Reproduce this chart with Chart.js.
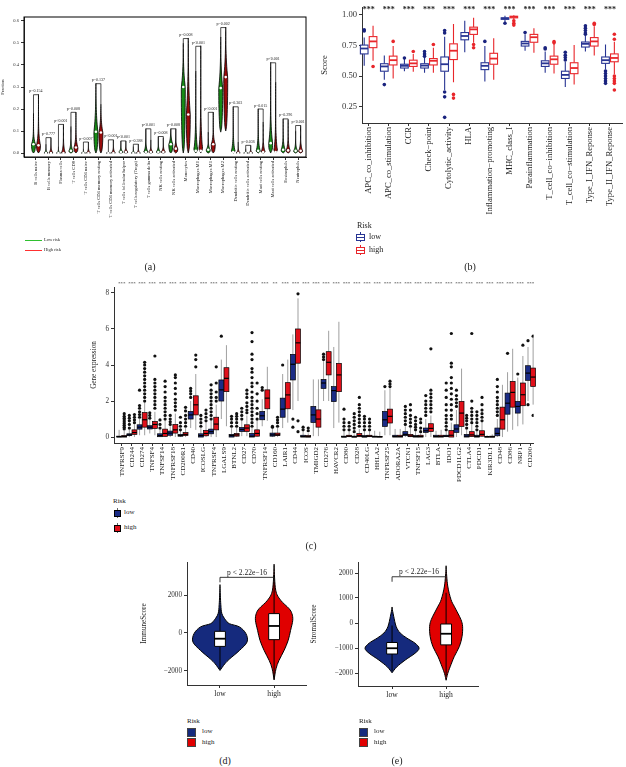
<!DOCTYPE html>
<html>
<head>
<meta charset="utf-8">
<title>Immune landscape by risk group</title>
<script src="https://cdn.jsdelivr.net/npm/chart.js@4.4.1/dist/chart.umd.min.js"></script>
<style>
  body { margin: 0; background: #fff; }
  #page { position: relative; width: 626px; height: 767px; overflow: hidden; font-family: "Liberation Serif", "DejaVu Serif", serif; color: #222; }
  #page canvas, #page .t, #page .k { position: absolute; }
  .t { white-space: nowrap; line-height: 1; color: #222; }
  .tag { font-size: 10px; transform: translateX(-50%); }
</style>
</head>
<body>
<div id="page">
  <canvas id="chartA" width="310" height="240" style="left:0;top:0"></canvas>
  <canvas id="chartB" width="306" height="222" style="left:320px;top:0"></canvas>
  <canvas id="chartC" width="450" height="215" style="left:90px;top:280px"></canvas>
  <canvas id="chartD" width="175" height="150" style="left:140px;top:555px"></canvas>
  <canvas id="chartE" width="175" height="150" style="left:310px;top:555px"></canvas>

  <!-- legend (a) -->
  <div class="k" style="left:25px;top:240px;width:17px;height:1px;background:#2fc02f"></div>
  <div class="t" style="left:44px;top:238px;font-size:4.5px">Low risk</div>
  <div class="k" style="left:25px;top:250px;width:17px;height:1px;background:#ff3030"></div>
  <div class="t" style="left:44px;top:248px;font-size:4.5px">High risk</div>
  <div class="t tag" style="left:150px;top:262px">(a)</div>

  <!-- legend (b) -->
  <div class="t" style="left:357px;top:222px;font-size:8px">Risk</div>
  <div class="k" style="left:360px;top:232px;width:1px;height:10px;background:#283593"></div>
  <div class="k" style="left:356px;top:234px;width:7px;height:5px;border:1px solid #283593;background:#fff"></div>
  <div class="k" style="left:356px;top:236.5px;width:9px;height:1.3px;background:#283593"></div>
  <div class="t" style="left:369px;top:233px;font-size:8px">low</div>
  <div class="k" style="left:360px;top:245px;width:1px;height:10px;background:#e8262b"></div>
  <div class="k" style="left:356px;top:247px;width:7px;height:5px;border:1px solid #e8262b;background:#fff"></div>
  <div class="k" style="left:356px;top:249.5px;width:9px;height:1.3px;background:#e8262b"></div>
  <div class="t" style="left:369px;top:246px;font-size:8px">high</div>
  <div class="t tag" style="left:470px;top:262px">(b)</div>

  <!-- legend (c) -->
  <div class="t" style="left:113px;top:498px;font-size:7px">Risk</div>
  <div class="k" style="left:117px;top:508px;width:1px;height:10px;background:#666"></div>
  <div class="k" style="left:114px;top:510px;width:5px;height:5px;border:1px solid #000;background:#1b2c86"></div>
  <div class="t" style="left:124px;top:509px;font-size:7px">low</div>
  <div class="k" style="left:117px;top:523px;width:1px;height:10px;background:#666"></div>
  <div class="k" style="left:114px;top:525px;width:5px;height:5px;border:1px solid #000;background:#e0101a"></div>
  <div class="t" style="left:124px;top:524px;font-size:7px">high</div>
  <div class="t tag" style="left:311px;top:541px">(c)</div>

  <!-- legend (d) -->
  <div class="t" style="left:187px;top:718px;font-size:7px">Risk</div>
  <div class="k" style="left:187px;top:728px;width:7px;height:7px;border:1px solid #444;background:#152a7d"></div>
  <div class="t" style="left:202px;top:728px;font-size:7px">low</div>
  <div class="k" style="left:187px;top:738px;width:7px;height:7px;border:1px solid #444;background:#e00000"></div>
  <div class="t" style="left:202px;top:739px;font-size:7px">high</div>
  <div class="t tag" style="left:225px;top:756px">(d)</div>

  <!-- legend (e) -->
  <div class="t" style="left:359px;top:718px;font-size:7px">Risk</div>
  <div class="k" style="left:359px;top:728px;width:7px;height:7px;border:1px solid #444;background:#152a7d"></div>
  <div class="t" style="left:374px;top:728px;font-size:7px">low</div>
  <div class="k" style="left:359px;top:738px;width:7px;height:7px;border:1px solid #444;background:#e00000"></div>
  <div class="t" style="left:374px;top:739px;font-size:7px">high</div>
  <div class="t tag" style="left:397px;top:756px">(e)</div>
</div>

<script>
// ---------- (a) immune cell fractions ----------
const aCells = ['B cells naive', 'B cells memory', 'Plasma cells', 'T cells CD8', 'T cells CD4 naive',
  'T cells CD4 memory resting', 'T cells CD4 memory activated', 'T cells follicular helper',
  'T cells regulatory (Tregs)', 'T cells gamma delta', 'NK cells resting', 'NK cells activated',
  'Monocytes', 'Macrophages M0', 'Macrophages M1', 'Macrophages M2', 'Dendritic cells resting',
  'Dendritic cells activated', 'Mast cells resting', 'Mast cells activated', 'Eosinophils', 'Neutrophils'];
const aLowMin  = [0, 0, 0, 0, 0, 0, 0, 0, 0, 0, 0, 0, 0, 0, 0, 0.095, 0, 0, 0, 0, 0, 0];
const aHighMin = [0, 0, 0, 0, 0, 0, 0, 0, 0, 0, 0, 0, 0, 0, 0, 0.10, 0, 0, 0, 0, 0, 0];
const aLowMax  = [0.18, 0.04, 0.03, 0.12, 0.02, 0.315, 0.01, 0.055, 0.03, 0.11, 0.075, 0.11, 0.495, 0.37, 0.095, 0.525, 0.21, 0.02, 0.2, 0.41, 0.155, 0.1];
const aHighMax = [0.265, 0.07, 0.13, 0.185, 0.05, 0.22, 0.06, 0.055, 0.04, 0.06, 0.07, 0.11, 0.52, 0.485, 0.185, 0.57, 0.05, 0.035, 0.14, 0.32, 0.15, 0.125];
const aLowMed  = [0.04, 0, 0, 0.01, 0, 0.097, 0, 0.005, 0, 0.005, 0.005, 0.04, 0.30, 0.01, 0.015, 0.295, 0.005, 0, 0.01, 0.045, 0.015, 0.01];
const aHighMed = [0.035, 0, 0, 0.025, 0, 0.093, 0, 0.005, 0, 0.005, 0.005, 0.02, 0.175, 0.01, 0.04, 0.345, 0, 0, 0.005, 0.005, 0.012, 0.01];
const aPvals = ['p=0.154', 'p=0.777', 'p<0.001', 'p=0.008', 'p=0.007', 'p=0.137', 'p<0.001', 'p<0.001',
  'p=0.388', 'p<0.001', 'p=0.008', 'p=0.008', 'p=0.008', 'p<0.001', 'p<0.001', 'p=0.002', 'p=0.303',
  'p=0.036', 'p=0.015', 'p<0.001', 'p=0.296', 'p<0.001'];
const aTicks = [0, 0.1, 0.2, 0.3, 0.4, 0.5, 0.6];

// ---------- (b) immune function scores: [low whisker, q1, median, q3, high whisker] ----------
const bCats = ['APC_co_inhibition', 'APC_co_stimulation', 'CCR', 'Check\u2212point', 'Cytolytic_activity', 'HLA',
  'Inflammation\u2212promoting', 'MHC_class_I', 'Parainflammation', 'T_cell_co\u2212inhibition',
  'T_cell_co\u2212stimulation', 'Type_I_IFN_Reponse', 'Type_II_IFN_Reponse'];
const bLowStats = [
  [0.583, 0.68, 0.724, 0.752, 0.813], [0.47, 0.539, 0.578, 0.60, 0.667], [0.539, 0.565, 0.583, 0.596, 0.642],
  [0.527, 0.565, 0.585, 0.60, 0.65], [0.386, 0.539, 0.596, 0.655, 0.82], [0.693, 0.795, 0.826, 0.854, 0.95],
  [0.455, 0.552, 0.583, 0.608, 0.744], [0.94, 0.962, 0.969, 0.974, 0.992], [0.705, 0.744, 0.765, 0.782, 0.84],
  [0.527, 0.578, 0.603, 0.624, 0.70], [0.41, 0.48, 0.509, 0.539, 0.616], [0.70, 0.736, 0.762, 0.777, 0.834],
  [0.552, 0.603, 0.629, 0.655, 0.757]];
const bHighStats = [
  [0.624, 0.731, 0.782, 0.821, 0.91], [0.48, 0.59, 0.629, 0.662, 0.744], [0.534, 0.578, 0.603, 0.629, 0.68],
  [0.527, 0.59, 0.624, 0.642, 0.73], [0.45, 0.634, 0.706, 0.762, 0.923], [0.77, 0.839, 0.88, 0.898, 0.974],
  [0.47, 0.596, 0.642, 0.685, 0.808], [0.962, 0.974, 0.982, 0.987, 0.995], [0.69, 0.775, 0.816, 0.839, 0.89],
  [0.52, 0.596, 0.636, 0.662, 0.762], [0.43, 0.519, 0.565, 0.608, 0.752], [0.667, 0.744, 0.782, 0.813, 0.905],
  [0.514, 0.616, 0.647, 0.68, 0.78]];
const bLowOut = [[0.867, 0.877], [0.43], [0.647], [0.66, 0.68, 0.70], [0.85, 0.87, 0.37, 0.33, 0.163], [],
  [0.782], [0.93], [0.854], [0.72, 0.73], [0.63, 0.65, 0.67, 0.693], [0.84, 0.85, 0.87, 0.89, 0.91],
  [0.54, 0.52, 0.50, 0.48, 0.46, 0.44]];
const bHighOut = [[0.578], [0.782], [0.70], [0.757], [0.35, 0.32], [0.757, 0.73], [], [0.95, 0.93, 0.915], [],
  [0.78, 0.77], [], [0.92, 0.93], [0.84, 0.80, 0.50, 0.48, 0.46, 0.44, 0.386]];
const bSig = bCats.map(() => '***');
const bTicks = [0.25, 0.5, 0.75, 1.0];

// ---------- (c) immune checkpoint genes: [low whisker, q1, median, q3, high whisker] ----------
const cGenes = ['TNFRSF9', 'CD244', 'CD274', 'TNFSF4', 'TNFSF14', 'TNFRSF18', 'CD200R1', 'CD40', 'ICOSLG',
  'TNFRSF4', 'LGALS9', 'BTNL2', 'CD27', 'CD70', 'TNFRSF14', 'CD160', 'LAIR1', 'CD44', 'ICOS', 'TMIGD2',
  'CD276', 'HAVCR2', 'CD80', 'CD28', 'CD40LG', 'HHLA2', 'TNFRSF25', 'ADORA2A', 'VTCN1', 'TNFSF15', 'LAG3',
  'BTLA', 'IDO1', 'PDCD1LG2', 'CTLA4', 'PDCD1', 'KIR3DL1', 'CD48', 'CD86', 'NRP1', 'CD200'];
const cLowStats = [
  [0, 0, 0.02, 0.05, 0.4], [0, 0.08, 0.12, 0.18, 0.4], [0.1, 0.44, 0.55, 0.68, 1.0], [0.2, 0.45, 0.55, 0.63, 0.95],
  [0, 0.02, 0.08, 0.18, 0.4], [0, 0.1, 0.22, 0.33, 0.6], [0, 0.05, 0.08, 0.15, 0.35], [0.5, 1.0, 1.23, 1.42, 2.0],
  [0, 0, 0.08, 0.18, 0.5], [0, 0.18, 0.3, 0.44, 0.9], [1.0, 2.0, 2.62, 3.17, 4.3], [0, 0, 0.08, 0.15, 0.5],
  [0.05, 0.31, 0.42, 0.53, 0.9], [0, 0, 0.05, 0.2, 0.5], [0.6, 0.96, 1.18, 1.42, 2.1], [0, 0.05, 0.12, 0.22, 0.5],
  [0.5, 1.1, 1.55, 2.16, 3.5], [1.5, 3.17, 4.04, 4.59, 5.7], [0, 0, 0.03, 0.1, 0.3], [0.05, 0.81, 1.23, 1.7, 3.2],
  [2.0, 2.7, 3.0, 3.2, 4.2], [0.5, 1.97, 2.58, 2.8, 5.0], [0, 0, 0.01, 0.05, 0.3], [0, 0, 0.01, 0.05, 0.15],
  [0, 0, 0.02, 0.08, 0.3], [0, 0, 0.02, 0.05, 0.35], [0.1, 0.59, 0.96, 1.42, 2.6], [0, 0, 0.03, 0.1, 0.45],
  [0, 0.08, 0.15, 0.3, 0.6], [0, 0, 0.03, 0.08, 0.3], [0, 0.26, 0.35, 0.5, 1.0], [0, 0, 0.03, 0.1, 0.35],
  [0, 0.02, 0.05, 0.1, 0.3], [0, 0.26, 0.45, 0.68, 1.5], [0, 0, 0.05, 0.15, 0.4], [0, 0, 0.03, 0.1, 0.3],
  [0, 0, 0.01, 0.03, 0.1], [0, 0.07, 0.2, 0.5, 1.0], [0.3, 1.27, 1.88, 2.44, 3.6], [0.6, 1.33, 1.7, 1.98, 3.3],
  [2.0, 3.15, 3.55, 3.96, 5.0]];
const cHighStats = [
  [0, 0, 0.03, 0.08, 0.35], [0, 0.15, 0.25, 0.4, 0.7], [0.1, 0.55, 0.96, 1.36, 1.9], [0.1, 0.48, 0.7, 0.87, 1.4],
  [0, 0.04, 0.2, 0.44, 0.9], [0, 0.22, 0.4, 0.7, 1.3], [0, 0.08, 0.15, 0.25, 0.5], [0.4, 1.23, 1.79, 2.29, 3.5],
  [0, 0.07, 0.2, 0.37, 0.8], [0, 0.4, 0.72, 1.1, 1.8], [0.6, 2.52, 3.26, 3.85, 5.1], [0, 0.05, 0.12, 0.2, 0.5],
  [0.05, 0.31, 0.5, 0.68, 1.2], [0, 0.05, 0.2, 0.4, 0.9], [0.9, 1.57, 2.16, 2.62, 3.9], [0, 0.08, 0.12, 0.22, 0.5],
  [0.8, 1.57, 2.34, 3.02, 4.3], [2.0, 4.1, 5.23, 6.0, 7.7], [0, 0, 0.02, 0.08, 0.2], [0.05, 0.55, 1.0, 1.51, 3.2],
  [2.0, 3.45, 4.15, 4.74, 5.9], [0.8, 2.52, 3.45, 4.09, 6.4], [0, 0.02, 0.05, 0.1, 0.3], [0, 0.02, 0.08, 0.2, 0.45],
  [0, 0.02, 0.05, 0.1, 0.3], [0, 0, 0.01, 0.03, 0.3], [0.1, 0.78, 1.15, 1.55, 2.7], [0, 0, 0.03, 0.1, 0.45],
  [0, 0.02, 0.06, 0.15, 0.5], [0, 0, 0.03, 0.1, 0.2], [0, 0.31, 0.48, 0.74, 1.2], [0, 0, 0.03, 0.1, 0.4],
  [0, 0, 0.1, 0.37, 0.8], [0.1, 0.59, 1.33, 1.98, 3.8], [0, 0.03, 0.12, 0.3, 0.7], [0, 0.05, 0.15, 0.35, 0.8],
  [0, 0, 0.01, 0.05, 0.15], [0, 0.44, 0.96, 1.66, 2.9], [0.4, 1.66, 2.48, 3.09, 4.9], [0.7, 1.74, 2.35, 3.0, 4.5],
  [1.8, 2.81, 3.33, 3.83, 5.5]];
const cLowOut = [[], [0.5, 0.7, 0.9, 1.05, 1.2], [1.1, 1.25, 1.4, 1.6, 1.75, 2.6], [1.05, 1.2, 1.35],
  [0.5, 0.7, 0.95], [0.7, 0.85, 1.0, 1.2], [0.4, 0.6, 0.8, 1.1], [2.2, 2.4, 2.55, 2.7], [0.6, 0.8, 1.0, 1.2],
  [1.0, 1.2, 1.4, 1.6, 1.8, 2.0, 2.2, 2.4, 2.6, 2.9], [5.6], [0.6, 0.8, 1.0, 1.15], [1.0, 1.2, 1.4, 1.6],
  [0.6, 0.8, 1.0, 1.2, 1.4, 1.6, 1.8, 2.0, 2.2, 2.5, 2.8, 3.0, 3.3, 3.6, 3.8, 4.3, 4.6, 5.3, 5.8],
  [2.6, 2.75], [0.55, 0.6], [4.0], [1.0, 0.55], [0.4, 0.55], [], [4.3, 4.45, 4.6], [],
  [0.4, 0.6, 0.8, 1.0, 1.55], [0.3, 0.5, 0.7, 0.9, 1.1, 1.3], [0.4, 0.6, 0.8, 1.0, 1.15], [], [2.8], [],
  [0.7, 0.9, 1.1, 1.3, 1.5, 1.7], [0.4, 0.55, 0.7, 0.9, 1.1], [1.2, 1.4, 1.6, 1.8, 2.0, 2.3], [],
  [0.4, 0.6, 0.8, 1.0, 1.2, 1.5, 1.8, 2.2, 2.6, 3.0], [1.7, 1.9, 2.1, 2.3, 2.6], [0.5, 0.7, 0.9, 1.05, 1.2],
  [0.4, 0.6, 0.8, 1.0, 1.2, 1.4], [], [1.2, 1.4, 1.6, 1.8, 2.0, 2.2, 2.5, 2.8, 3.2], [4.65], [3.5], [5.35, 1.8]];
const cHighOut = [[0.45, 0.55, 0.65, 0.75, 0.85, 0.95, 1.05, 1.15, 1.3], [0.8, 0.95, 1.1, 1.25],
  [2.0, 2.2, 2.4, 2.6, 2.8, 3.0, 3.2, 3.4, 3.6, 3.8, 4.0, 4.15], [1.6, 1.8, 2.0, 2.2, 2.4, 2.6, 2.8, 3.0, 3.2, 4.5],
  [1.0, 1.2, 1.4, 1.6, 1.8, 2.0, 2.2, 2.5, 2.8, 3.1], [1.5, 1.7, 1.9, 2.1, 2.4, 2.7, 3.0, 3.3, 3.45],
  [0.6, 0.8, 1.0, 1.2, 1.45, 1.65], [3.9, 4.3, 4.55], [0.9, 1.1, 1.3, 1.5], [2.0, 2.2, 2.5, 3.0, 3.9], [],
  [0.6, 0.8, 1.0, 1.15, 1.3], [1.35, 1.5, 1.7, 1.9, 2.2, 2.4, 2.6], [1.0, 1.3, 1.6, 2.0, 2.4, 3.0], [],
  [0.6, 0.8, 0.95, 1.1], [], [0.9, 0.3, 7.95], [0.35, 0.5], [], [], [], [0.4, 0.6, 0.8],
  [0.6, 0.8, 1.0, 1.2, 1.4, 1.6, 1.8, 2.2], [0.4, 0.6, 0.8, 1.0], [], [2.8, 2.95, 3.1], [],
  [0.6, 0.8, 1.0, 1.2, 1.5, 1.8], [0.3, 0.5, 0.8, 1.0], [1.4, 1.6, 1.8, 2.0, 2.2, 2.4, 2.6, 4.9], [],
  [1.0, 1.2, 1.5, 1.8, 2.1, 2.4, 2.7, 3.0, 3.3, 3.9, 4.1, 5.75], [], [0.8, 1.0, 1.2, 1.4, 1.6, 2.0, 5.75],
  [0.9, 1.1, 1.3, 1.5, 1.8, 2.2], [], [], [], [5.1], [5.6, 1.2]];
const cSig = cGenes.map((g, i) => (i === 15 ? '**' : '***'));
const cTicks = [0, 2, 4, 6, 8];

// ---------- (d) ImmuneScore / (e) StromalScore violins ----------
const riskGroups = ['low', 'high'];
const dLowVals  = [-1970, -1620, -1360, -920, -475, -35, 320, 490, 700, 1020, 1500, 2430];
const dLowDens  = [0, 0.18, 0.36, 0.72, 1, 0.96, 0.72, 0.35, 0.2, 0.07, 0.03, 0];
const dHighVals = [-2470, -1885, -1445, -915, -390, 140, 670, 1020, 1290, 1730, 2255, 3470];
const dHighDens = [0, 0.07, 0.18, 0.37, 0.52, 0.61, 0.69, 0.66, 0.55, 0.24, 0.06, 0];
const dLowBox  = [-1900, -705, -300, 88, 1270];
const dHighBox = [-2400, -350, 370, 1020, 3050];
const dTicks = [-2000, 0, 2000];
const dBracket = 2930;
const eLowVals  = [-1990, -1750, -1480, -1210, -1010, -808, -605, -400, -135, 270, 600];
const eLowDens  = [0, 0.18, 0.49, 0.85, 1, 0.85, 0.55, 0.3, 0.15, 0.06, 0];
const eHighVals = [-2290, -2020, -1750, -1345, -940, -540, -135, 135, 400, 670, 940, 1480, 2200];
const eHighDens = [0, 0.06, 0.15, 0.3, 0.49, 0.59, 0.61, 0.55, 0.43, 0.3, 0.18, 0.06, 0];
const eLowBox  = [-1930, -1240, -1010, -780, -100];
const eHighBox = [-2120, -875, -430, -40, 1210];
const eTicks = [-2000, -1000, 0, 1000, 2000];
const eBracket = 1850;
const pText = 'p < 2.22e\u221216';

// ---------- helpers ----------
Chart.defaults.font.family = "'Liberation Serif', 'DejaVu Serif', serif";
Chart.defaults.color = '#222';
Chart.defaults.animation = false;

const minus = v => String(v).replace('-', '\u2212');

function catAxis(names, min, max, height, size, rot) {
  return {
    type: 'linear', min, max,
    afterFit: s => { s.height = height; },
    afterBuildTicks: s => { s.ticks = names.map((n, i) => ({ value: i })); },
    ticks: { autoSkip: false, minRotation: rot, maxRotation: rot, padding: 1, color: '#222',
             font: { size }, callback: v => names[v] },
    grid: { drawOnChartArea: false, tickLength: 3, color: '#333' },
    border: { display: true, color: '#333' }
  };
}

function valAxis(ticks, min, max, width, size, title, fmt) {
  return {
    type: 'linear', min, max,
    afterFit: s => { s.width = width; },
    afterBuildTicks: s => { s.ticks = ticks.map(v => ({ value: v })); },
    ticks: { padding: 2, color: '#333', font: { size }, callback: fmt },
    grid: { drawOnChartArea: false, tickLength: 3, color: '#333' },
    border: { display: true, color: '#333' },
    title: { display: true, text: title, font: { size }, padding: 0, color: '#222' }
  };
}

function smoothPath(ctx, p) {
  ctx.moveTo(p[0][0], p[0][1]);
  for (let i = 0; i < p.length - 1; i++) {
    const p0 = p[i - 1] || p[i], p1 = p[i], p2 = p[i + 1], p3 = p[i + 2] || p2;
    ctx.bezierCurveTo(p1[0] + (p2[0] - p0[0]) / 6, p1[1] + (p2[1] - p0[1]) / 6,
                      p2[0] - (p3[0] - p1[0]) / 6, p2[1] - (p3[1] - p1[1]) / 6, p2[0], p2[1]);
  }
}

function drawViolin(ctx, xs, ys, cx, vals, dens, hw, fill, lw) {
  const left = vals.map((v, k) => [xs.getPixelForValue(cx - dens[k] * hw), ys.getPixelForValue(v)]);
  const right = vals.map((v, k) => [xs.getPixelForValue(cx + dens[k] * hw), ys.getPixelForValue(v)]).reverse();
  ctx.beginPath();
  smoothPath(ctx, left.concat(right));
  ctx.closePath();
  ctx.fillStyle = fill;
  ctx.fill();
  ctx.lineWidth = lw;
  ctx.strokeStyle = '#000';
  ctx.lineJoin = 'round';
  ctx.stroke();
}

// violin outline for (a): widest at the median, long thin tail up to the max
function spikeProfile(lo, med, hi) {
  const vals = [], dens = [];
  const k = (med - lo) < 0.25 * (hi - lo) ? 5 : 2;
  for (let j = 0; j <= 24; j++) {
    const v = lo + (hi - lo) * j / 24;
    let w;
    if (v <= med) {
      const t = med > lo ? (med - v) / (med - lo) : 0;
      w = Math.sqrt(Math.max(0, 1 - t * t));
    } else {
      const t = (v - med) / (hi - med);
      w = (1 - t) * Math.exp(-k * t);
    }
    vals.push(v); dens.push(w);
  }
  return { vals, dens };
}

function drawBox(ctx, xs, ys, cx, hw, s, st) {
  const [lo, q1, med, q3, hi] = s;
  const xl = xs.getPixelForValue(cx - hw), xr = xs.getPixelForValue(cx + hw), xc = xs.getPixelForValue(cx);
  const y = v => ys.getPixelForValue(v);
  ctx.save();
  ctx.strokeStyle = st.whisker;
  ctx.lineWidth = st.lw;
  ctx.beginPath();
  ctx.moveTo(xc, y(q3)); ctx.lineTo(xc, y(hi));
  ctx.moveTo(xc, y(q1)); ctx.lineTo(xc, y(lo));
  ctx.stroke();
  ctx.fillStyle = st.fill;
  ctx.fillRect(xl, y(q3), xr - xl, y(q1) - y(q3));
  ctx.strokeStyle = st.stroke;
  ctx.strokeRect(xl, y(q3), xr - xl, y(q1) - y(q3));
  ctx.lineWidth = st.medLw;
  ctx.strokeStyle = st.med;
  ctx.beginPath(); ctx.moveTo(xl, y(med)); ctx.lineTo(xr, y(med)); ctx.stroke();
  ctx.restore();
}

const noUi = { legend: { display: false }, tooltip: { enabled: false } };

// ---------- chart (a) ----------
const violinA = {
  id: 'violinA',
  beforeDatasetsDraw(chart) {
    const { ctx, scales: { x, y } } = chart;
    ctx.save();
    aCells.forEach((c, i) => {
      const pl = spikeProfile(aLowMin[i], aLowMed[i], aLowMax[i]);
      drawViolin(ctx, x, y, i - 0.2, pl.vals, pl.dens, 0.16, '#168c16', 0.8);
      const ph = spikeProfile(aHighMin[i], aHighMed[i], aHighMax[i]);
      drawViolin(ctx, x, y, i + 0.2, ph.vals, ph.dens, 0.16, '#9a0b0b', 0.8);
    });
    ctx.restore();
  },
  afterDatasetsDraw(chart) {
    const { ctx, scales: { x, y }, chartArea: a } = chart;
    ctx.save();
    ctx.strokeStyle = '#000';
    ctx.lineWidth = 0.7;
    ctx.fillStyle = '#222';
    ctx.font = "4px 'Liberation Serif'";
    ctx.textAlign = 'center';
    ctx.textBaseline = 'bottom';
    aCells.forEach((c, i) => {
      const top = Math.max(aLowMax[i], aHighMax[i]);
      ctx.beginPath();
      ctx.moveTo(x.getPixelForValue(i - 0.2), y.getPixelForValue(aLowMax[i]));
      ctx.lineTo(x.getPixelForValue(i - 0.2), y.getPixelForValue(top));
      ctx.lineTo(x.getPixelForValue(i + 0.2), y.getPixelForValue(top));
      ctx.lineTo(x.getPixelForValue(i + 0.2), y.getPixelForValue(aHighMax[i]));
      ctx.stroke();
      ctx.fillText(aPvals[i], x.getPixelForValue(i), y.getPixelForValue(top) - 1.5);
    });
    ctx.lineWidth = 1;
    ctx.strokeRect(a.left, a.top, a.right - a.left, a.bottom - a.top);
    ctx.restore();
  }
};

new Chart(document.getElementById('chartA'), {
  type: 'scatter',
  data: {
    datasets: [
      { data: aLowMed.map((v, i) => ({ x: i - 0.2, y: v })), pointRadius: 1.3, pointBorderWidth: 0, pointBackgroundColor: '#fff' },
      { data: aHighMed.map((v, i) => ({ x: i + 0.2, y: v })), pointRadius: 1.3, pointBorderWidth: 0, pointBackgroundColor: '#fff' }
    ]
  },
  options: {
    responsive: false,
    layout: { padding: { top: 17, right: 4, left: 0, bottom: 0 } },
    plugins: noUi,
    scales: {
      x: catAxis(aCells, -0.96, 21.63, 83, 4.6, 90),
      y: valAxis(aTicks, -0.018, 0.618, 24, 4.6, 'Fraction', v => v.toFixed(1))
    }
  },
  plugins: [violinA]
});

// ---------- chart (b) ----------
const boxB = {
  id: 'boxB',
  beforeDatasetsDraw(chart) {
    const { ctx, scales: { x, y }, chartArea: a } = chart;
    bCats.forEach((c, i) => {
      drawBox(ctx, x, y, i - 0.22, 0.19, bLowStats[i], { fill: '#fff', stroke: '#283593', whisker: '#283593', med: '#283593', lw: 1.1, medLw: 1.8 });
      drawBox(ctx, x, y, i + 0.22, 0.19, bHighStats[i], { fill: '#fff', stroke: '#e8262b', whisker: '#e8262b', med: '#e8262b', lw: 1.1, medLw: 1.8 });
    });
    ctx.save();
    ctx.fillStyle = '#222';
    ctx.font = "bold 8px 'Liberation Serif'";
    ctx.textAlign = 'center';
    ctx.textBaseline = 'top';
    bSig.forEach((s, i) => ctx.fillText(s, x.getPixelForValue(i), a.top - 1));
    ctx.restore();
  }
};

new Chart(document.getElementById('chartB'), {
  type: 'scatter',
  data: {
    datasets: [
      { data: bLowOut.flatMap((o, i) => o.map(v => ({ x: i - 0.22, y: v }))), pointRadius: 1.8, pointBorderWidth: 0, pointBackgroundColor: '#1a237e' },
      { data: bHighOut.flatMap((o, i) => o.map(v => ({ x: i + 0.22, y: v }))), pointRadius: 1.8, pointBorderWidth: 0, pointBackgroundColor: '#e8262b' }
    ]
  },
  options: {
    responsive: false,
    layout: { padding: 0 },
    plugins: noUi,
    scales: {
      x: catAxis(bCats, -0.33, 12.6, 99, 8.6, 90),
      y: valAxis(bTicks, 0.117, 1.061, 42, 8.6, 'Score', v => v.toFixed(2))
    }
  },
  plugins: [boxB]
});

// ---------- chart (c) ----------
const boxC = {
  id: 'boxC',
  beforeDatasetsDraw(chart) {
    const { ctx, scales: { x, y }, chartArea: a } = chart;
    cGenes.forEach((g, i) => {
      drawBox(ctx, x, y, i - 0.25, 0.24, cLowStats[i], { fill: '#1b2c86', stroke: '#000', whisker: '#777', med: '#000', lw: 0.7, medLw: 1.2 });
      drawBox(ctx, x, y, i + 0.25, 0.24, cHighStats[i], { fill: '#e0101a', stroke: '#000', whisker: '#777', med: '#000', lw: 0.7, medLw: 1.2 });
    });
    ctx.save();
    ctx.fillStyle = '#333';
    ctx.font = "5px 'Liberation Serif'";
    ctx.textAlign = 'center';
    ctx.textBaseline = 'bottom';
    cSig.forEach((s, i) => ctx.fillText(s, x.getPixelForValue(i), a.top - 1));
    ctx.restore();
  }
};

new Chart(document.getElementById('chartC'), {
  type: 'scatter',
  data: {
    datasets: [
      { data: cLowOut.flatMap((o, i) => o.map(v => ({ x: i - 0.25, y: v }))), pointRadius: 1.6, pointBorderWidth: 0, pointBackgroundColor: '#111' },
      { data: cHighOut.flatMap((o, i) => o.map(v => ({ x: i + 0.25, y: v }))), pointRadius: 1.6, pointBorderWidth: 0, pointBackgroundColor: '#111' }
    ]
  },
  options: {
    responsive: false,
    layout: { padding: { top: 7, right: 6, left: 0, bottom: 0 } },
    plugins: noUi,
    scales: {
      x: catAxis(cGenes, -0.75, 40.3, 52, 7, 90),
      y: valAxis(cTicks, -0.33, 8.33, 24, 7.2, 'Gene expression', v => String(v))
    }
  },
  plugins: [boxC]
});

// ---------- charts (d) and (e) ----------
function violinPlugin(id, lowV, lowD, highV, highD, lowBox, highBox, bracket) {
  return {
    id,
    beforeDatasetsDraw(chart) {
      const { ctx, scales: { x, y } } = chart;
      ctx.save();
      drawViolin(ctx, x, y, 0, lowV, lowD, 0.5, '#152a7d', 1);
      drawViolin(ctx, x, y, 1, highV, highD, 0.5, '#e00000', 1);
      const st = { fill: '#fff', stroke: '#000', whisker: '#000', med: '#000', lw: 1, medLw: 1.8 };
      drawBox(ctx, x, y, 0, 0.1, lowBox, st);
      drawBox(ctx, x, y, 1, 0.1, highBox, st);
      const by = y.getPixelForValue(bracket);
      ctx.strokeStyle = '#222';
      ctx.lineWidth = 0.9;
      ctx.beginPath();
      ctx.moveTo(x.getPixelForValue(0), by + 5);
      ctx.lineTo(x.getPixelForValue(0), by);
      ctx.lineTo(x.getPixelForValue(1), by);
      ctx.lineTo(x.getPixelForValue(1), by + 5);
      ctx.stroke();
      ctx.fillStyle = '#222';
      ctx.font = "7.5px 'Liberation Serif'";
      ctx.textAlign = 'center';
      ctx.textBaseline = 'bottom';
      ctx.fillText(pText, x.getPixelForValue(0.5), by - 1);
      ctx.restore();
    }
  };
}

new Chart(document.getElementById('chartD'), {
  type: 'scatter',
  data: { datasets: [{ data: [] }] },
  options: {
    responsive: false,
    layout: { padding: { top: 7, right: 9, left: 0, bottom: 0 } },
    plugins: noUi,
    scales: {
      x: catAxis(riskGroups, -0.61, 1.59, 20, 7.6, 0),
      y: valAxis(dTicks, -2737, 3737, 47, 7.2, 'ImmuneScore', minus)
    }
  },
  plugins: [violinPlugin('violinD', dLowVals, dLowDens, dHighVals, dHighDens, dLowBox, dHighBox, dBracket)]
});

new Chart(document.getElementById('chartE'), {
  type: 'scatter',
  data: { datasets: [{ data: [] }] },
  options: {
    responsive: false,
    layout: { padding: { top: 7, right: 7, left: 0, bottom: 0 } },
    plugins: noUi,
    scales: {
      x: catAxis(riskGroups, -0.63, 1.59, 19, 7.6, 0),
      y: valAxis(eTicks, -2520, 2440, 48, 7.2, 'StromalScore', minus)
    }
  },
  plugins: [violinPlugin('violinE', eLowVals, eLowDens, eHighVals, eHighDens, eLowBox, eHighBox, eBracket)]
});
</script>
</body>
</html>
